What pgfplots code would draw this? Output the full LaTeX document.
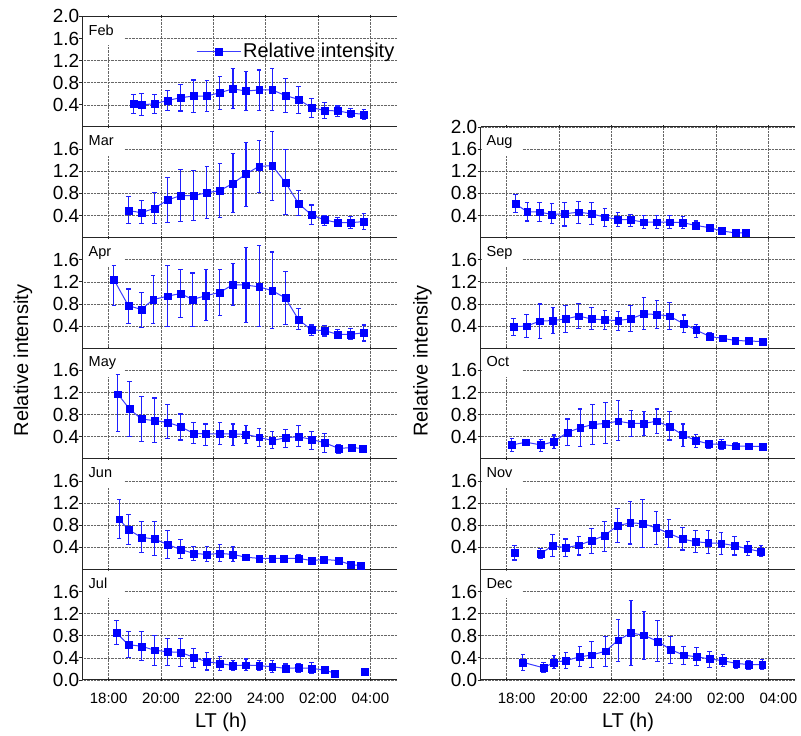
\documentclass[border=0pt]{standalone}
\usepackage{fontspec}
\setmainfont{Liberation Sans}
\usepackage{pgfplots}
\usepackage{pgfplotstable}
\usetikzlibrary{arrows.meta}
\pgfplotsset{compat=1.18}
\definecolor{ebblue}{RGB}{30,30,255}
\definecolor{lnblue}{RGB}{60,60,255}

\newcommand\ytickfont{\fontsize{19}{21}\selectfont}
\newcommand\xtickfont{\fontsize{15}{17}\selectfont}
\newcommand\monthfont{\fontsize{14.5}{16}\selectfont}
\newcommand\bigfont{\fontsize{20}{24}\selectfont}

\pgfplotstableread{
x y hi lo
18.95 0.42 0.60 0.23
19.25 0.40 0.61 0.20
19.75 0.42 0.60 0.23
20.25 0.48 0.67 0.29
20.75 0.53 0.78 0.28
21.25 0.56 0.86 0.25
21.75 0.56 0.85 0.27
22.25 0.62 0.93 0.31
22.75 0.69 1.06 0.33
23.25 0.65 1.01 0.29
23.75 0.67 1.04 0.29
24.25 0.67 1.07 0.29
24.75 0.57 0.89 0.25
25.25 0.50 0.74 0.24
25.75 0.35 0.52 0.16
26.25 0.30 0.45 0.14
26.75 0.29 0.39 0.18
27.25 0.25 0.34 0.16
27.75 0.23 0.33 0.13
}\tFeb
\pgfplotstableread{
x y hi lo
18.75 0.49 0.75 0.24
19.25 0.45 0.68 0.24
19.75 0.53 0.83 0.24
20.25 0.68 1.10 0.27
20.75 0.76 1.24 0.28
21.25 0.76 1.23 0.30
21.75 0.81 1.29 0.33
22.25 0.85 1.35 0.35
22.75 0.98 1.53 0.44
23.25 1.15 1.73 0.56
23.75 1.29 1.76 0.81
24.25 1.30 1.93 0.66
24.75 1.00 1.60 0.40
25.25 0.62 0.86 0.39
25.75 0.41 0.60 0.22
26.25 0.32 0.41 0.21
26.75 0.27 0.38 0.19
27.25 0.27 0.39 0.16
27.75 0.29 0.44 0.14
}\tMar
\pgfplotstableread{
x y hi lo
18.2 1.24 1.51 0.77
18.75 0.77 1.08 0.44
19.25 0.70 1.02 0.37
19.7 0.88 1.33 0.43
20.25 0.94 1.51 0.39
20.75 0.99 1.43 0.55
21.2 0.88 1.37 0.38
21.72 0.95 1.43 0.49
22.25 1.01 1.43 0.58
22.75 1.15 1.54 0.77
23.25 1.14 1.83 0.46
23.75 1.11 1.87 0.38
24.25 1.04 1.75 0.34
24.75 0.91 1.39 0.42
25.25 0.52 0.72 0.32
25.75 0.33 0.43 0.22
26.25 0.32 0.42 0.21
26.75 0.25 0.34 0.16
27.25 0.25 0.36 0.15
27.75 0.28 0.43 0.12
}\tApr
\pgfplotstableread{
x y hi lo
18.35 1.17 1.53 0.48
18.8 0.90 1.41 0.40
19.25 0.72 1.14 0.30
19.75 0.69 1.11 0.28
20.25 0.66 0.99 0.35
20.75 0.58 0.82 0.33
21.25 0.46 0.66 0.27
21.7 0.45 0.64 0.23
22.25 0.45 0.66 0.25
22.75 0.45 0.64 0.23
23.25 0.44 0.61 0.27
23.75 0.39 0.55 0.22
24.25 0.33 0.50 0.18
24.75 0.38 0.54 0.19
25.25 0.40 0.61 0.21
25.75 0.35 0.51 0.16
26.25 0.29 0.46 0.11
26.78 0.19 0.26 0.09
27.28 0.20 0.20 0.20
27.7 0.19 0.19 0.19
}\tMay
\pgfplotstableread{
x y hi lo
18.4 0.91 1.28 0.55
18.75 0.72 1.01 0.44
19.25 0.58 0.87 0.30
19.75 0.55 0.87 0.24
20.25 0.45 0.72 0.19
20.75 0.36 0.55 0.18
21.25 0.29 0.43 0.15
21.75 0.27 0.42 0.13
22.25 0.29 0.46 0.13
22.75 0.27 0.42 0.13
23.25 0.22 0.28 0.15
23.75 0.20 0.25 0.15
24.25 0.20 0.26 0.15
24.7 0.20 0.25 0.14
25.25 0.20 0.27 0.15
25.75 0.16 0.19 0.13
26.22 0.18 0.18 0.18
26.78 0.16 0.16 0.16
27.25 0.085 0.085 0.085
27.62 0.07 0.07 0.07
}\tJun
\pgfplotstableread{
x y hi lo
18.3 0.85 1.08 0.63
18.75 0.64 0.88 0.39
19.25 0.61 0.88 0.35
19.75 0.54 0.81 0.26
20.25 0.51 0.76 0.26
20.75 0.50 0.76 0.24
21.25 0.41 0.58 0.21
21.75 0.33 0.50 0.17
22.25 0.30 0.44 0.16
22.75 0.26 0.36 0.17
23.25 0.27 0.39 0.16
23.75 0.26 0.36 0.16
24.25 0.24 0.36 0.13
24.75 0.21 0.30 0.12
25.25 0.22 0.30 0.13
25.75 0.21 0.32 0.10
26.25 0.18 0.18 0.18
26.65 0.12 0.12 0.12
}\tJulA
\pgfplotstableread{
x y hi lo
27.77 0.15 0.15 0.15
}\tJulB
\pgfplotstableread{
x y hi lo
18.33 0.61 0.79 0.44
18.78 0.47 0.65 0.29
19.26 0.46 0.64 0.28
19.73 0.42 0.62 0.24
20.21 0.43 0.65 0.20
20.75 0.46 0.67 0.25
21.24 0.43 0.64 0.22
21.75 0.37 0.54 0.19
22.25 0.33 0.47 0.19
22.73 0.32 0.43 0.19
23.24 0.28 0.41 0.16
23.74 0.28 0.41 0.16
24.23 0.28 0.41 0.16
24.73 0.27 0.39 0.15
25.23 0.22 0.31 0.15
25.75 0.18 0.24 0.12
26.22 0.12 0.12 0.12
26.74 0.085 0.085 0.085
27.12 0.085 0.085 0.085
}\tAug
\pgfplotstableread{
x y hi lo
18.27 0.39 0.55 0.22
18.76 0.40 0.62 0.19
19.27 0.49 0.81 0.17
19.77 0.50 0.74 0.25
20.25 0.53 0.79 0.27
20.75 0.58 0.82 0.34
21.24 0.53 0.74 0.32
21.75 0.51 0.69 0.32
22.26 0.50 0.68 0.31
22.73 0.53 0.78 0.29
23.24 0.62 0.92 0.32
23.74 0.61 0.88 0.34
24.22 0.58 0.83 0.33
24.77 0.44 0.61 0.27
25.24 0.33 0.44 0.19
25.76 0.21 0.29 0.13
26.24 0.18 0.18 0.18
26.73 0.14 0.14 0.14
27.25 0.13 0.13 0.13
27.78 0.12 0.12 0.12
}\tSep
\pgfplotstableread{
x y hi lo
18.2 0.25 0.38 0.13
18.74 0.30 0.36 0.24
19.31 0.25 0.36 0.13
19.81 0.31 0.44 0.18
20.33 0.48 0.73 0.23
20.81 0.56 0.91 0.21
21.28 0.62 0.99 0.25
21.78 0.64 1.02 0.26
22.26 0.68 1.06 0.32
22.76 0.64 0.88 0.39
23.25 0.64 0.87 0.41
23.74 0.68 0.91 0.45
24.23 0.58 0.86 0.33
24.74 0.43 0.64 0.22
25.23 0.33 0.45 0.20
25.72 0.27 0.34 0.18
26.21 0.26 0.36 0.16
26.74 0.23 0.31 0.16
27.24 0.23 0.27 0.18
27.78 0.22 0.27 0.18
}\tOct
\pgfplotstableread{
x y hi lo
18.3 0.30 0.44 0.16
}\tNovA
\pgfplotstableread{
x y hi lo
19.29 0.28 0.39 0.18
19.76 0.43 0.64 0.22
20.25 0.39 0.56 0.22
20.76 0.44 0.61 0.25
21.25 0.52 0.75 0.28
21.73 0.61 0.88 0.32
22.23 0.79 1.11 0.47
22.72 0.84 1.24 0.45
23.2 0.83 1.28 0.38
23.71 0.75 1.05 0.44
24.2 0.65 0.91 0.38
24.71 0.55 0.76 0.34
25.22 0.50 0.71 0.29
25.7 0.48 0.71 0.27
26.2 0.47 0.67 0.26
26.7 0.43 0.61 0.25
27.22 0.37 0.52 0.24
27.72 0.32 0.44 0.22
}\tNovB
\pgfplotstableread{
x y hi lo
18.62 0.32 0.47 0.16
19.41 0.22 0.32 0.13
19.81 0.32 0.45 0.19
20.26 0.35 0.50 0.19
20.8 0.42 0.62 0.23
21.24 0.45 0.70 0.22
21.77 0.52 0.80 0.24
22.26 0.72 1.11 0.32
22.75 0.85 1.45 0.25
23.25 0.81 1.25 0.36
23.76 0.70 1.08 0.32
24.27 0.55 0.79 0.29
24.76 0.45 0.62 0.27
25.25 0.42 0.59 0.25
25.76 0.38 0.53 0.22
26.26 0.35 0.47 0.24
26.77 0.30 0.37 0.20
27.25 0.28 0.37 0.18
27.76 0.28 0.38 0.18
}\tDec

\pgfplotsset{
  panel/.style={
    scale only axis, width=314pt, height=110.6pt,
    xmin=17, xmax=29, ymin=0, ymax=2,
    anchor=south west,
    axis x line*=bottom, axis y line*=left,
    axis line style={-, black!85, line width=1pt},
    xtick={18,20,22,24,26,28},
    xticklabels={},
    ytick={0.4,0.8,1.2,1.6},
    grid=major,
    major grid style={densely dotted, black!60, line width=0.6pt},
    tick style={black!85, line width=0.8pt},
    major tick length=3pt,
    xtick align=center, ytick align=outside,
    /pgf/number format/assume math mode=true,
    yticklabel style={/pgf/number format/fixed, /pgf/number format/fixed zerofill, /pgf/number format/precision=1, font=\ytickfont, inner sep=0pt},
    xticklabel style={font=\xtickfont, yshift=-8pt},
  },
  toppanel/.style={axis x line*=box, ytick={0.4,0.8,1.2,1.6,2.0}},
  botpanel/.style={ytick={0,0.4,0.8,1.2,1.6}, xticklabels={18:00,20:00,22:00,24:00,02:00,04:00}},
  series/.style={color=lnblue, line width=1pt, mark=square*, mark size=3.4pt, mark options={solid, fill=blue, draw=blue, line width=0.3pt}},
  errbar/.style={forget plot, color=ebblue, draw=ebblue, line width=1.1pt, {Bar[width=4.5pt]}-{Bar[width=4.5pt]}},
}
\newcommand\datplot[1]{%
  \addplot[errbar, quiver={u value=0, v={max(\thisrow{hi}-\thisrow{lo},0.004)}, colored=ebblue}] table[x=x, y=lo] {#1};
  \addplot[series] table[x=x, y=y] {#1};}
\newcommand\mlabel[1]{\node[anchor=north west, fill=white, inner xsep=5pt, inner ysep=7pt, text height=10.5pt, text depth=3pt, text width=30pt, align=left, font=\monthfont] at ([xshift=1pt,yshift=-1pt]rel axis cs:0,1) {#1};}

\begin{document}
\begin{tikzpicture}
\path[use as bounding box] (0pt,0pt) rectangle (801pt,736pt);

% left column
\begin{axis}[panel, toppanel, at={(82.5pt,609pt)},
  legend style={at={(rel axis cs:1,0.683)}, anchor=east, draw=none, fill=none, inner sep=0pt, font=\bigfont},
  legend image code/.code={\draw[mark repeat=2,mark phase=2,#1] plot coordinates {(0pt,0pt) (22pt,0pt) (44pt,0pt)};}]
\mlabel{Feb}
\datplot{\tFeb}
\addlegendentry{Relative intensity}
\end{axis}
\begin{axis}[panel, at={(82.5pt,498.4pt)}]
\mlabel{Mar}
\datplot{\tMar}
\end{axis}
\begin{axis}[panel, at={(82.5pt,387.8pt)}]
\mlabel{Apr}
\datplot{\tApr}
\end{axis}
\begin{axis}[panel, at={(82.5pt,277.2pt)}]
\mlabel{May}
\datplot{\tMay}
\end{axis}
\begin{axis}[panel, at={(82.5pt,166.6pt)}]
\mlabel{Jun}
\datplot{\tJun}
\end{axis}
\begin{axis}[panel, botpanel, at={(82.5pt,56pt)}]
\mlabel{Jul}
\datplot{\tJulA}
\datplot{\tJulB}
\end{axis}

% right column
\begin{axis}[panel, toppanel, at={(480.5pt,498.4pt)}]
\mlabel{Aug}
\datplot{\tAug}
\end{axis}
\begin{axis}[panel, at={(480.5pt,387.8pt)}]
\mlabel{Sep}
\datplot{\tSep}
\end{axis}
\begin{axis}[panel, at={(480.5pt,277.2pt)}]
\mlabel{Oct}
\datplot{\tOct}
\end{axis}
\begin{axis}[panel, at={(480.5pt,166.6pt)}]
\mlabel{Nov}
\datplot{\tNovA}
\datplot{\tNovB}
\end{axis}
\begin{axis}[panel, botpanel, at={(480.5pt,56pt)}, xticklabel style={xshift=10pt}]
\mlabel{Dec}
\datplot{\tDec}
\end{axis}

\node[rotate=90, font=\bigfont] at (23pt,375.5pt) {Relative intensity};
\node[rotate=90, font=\bigfont] at (422.5pt,375pt) {Relative intensity};
\node[anchor=base, font=\bigfont] at (221pt,8pt) {LT (h)};
\node[anchor=base, font=\bigfont] at (628pt,8.5pt) {LT (h)};
\end{tikzpicture}
\end{document}
